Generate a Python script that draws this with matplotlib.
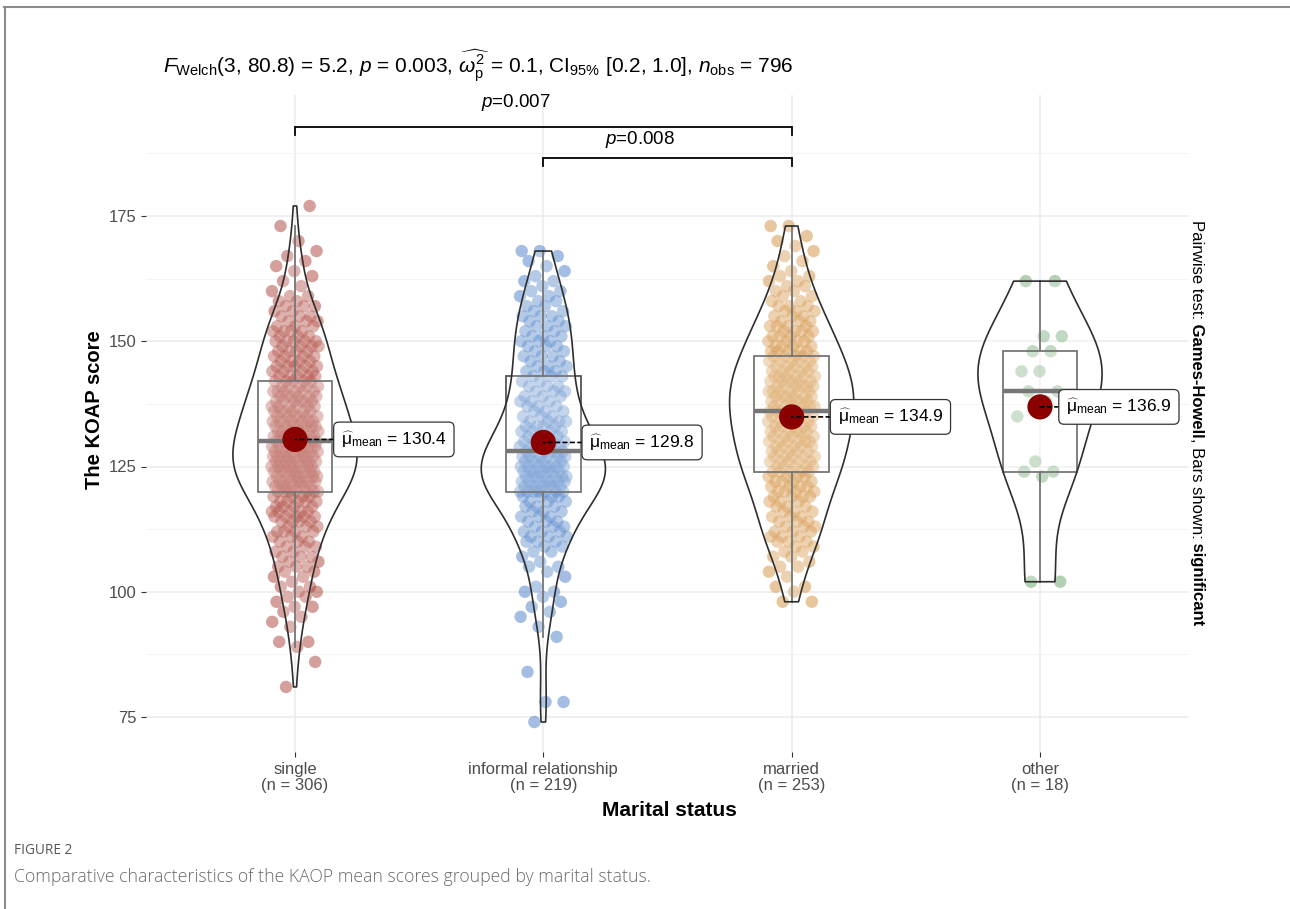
import numpy as np
import matplotlib
matplotlib.use('Agg')
import matplotlib.pyplot as plt
from matplotlib.lines import Line2D

plt.rcParams['font.family'] = ['Liberation Sans', 'DejaVu Sans']
plt.rcParams['mathtext.fontset'] = 'custom'
plt.rcParams['mathtext.rm'] = 'Liberation Sans'
plt.rcParams['mathtext.it'] = 'Liberation Sans:italic'
plt.rcParams['mathtext.bf'] = 'Liberation Sans:bold'

# ---------------- data ----------------
categories = ['single', 'informal relationship', 'married', 'other']
group_n = [306, 219, 253, 18]

# frequency tables: score -> count
single_scores = list(range(81, 178))
single_counts = [1, 0, 0, 0, 0, 1, 0, 0, 1, 2, 0, 0, 1, 1, 1, 1, 2, 1, 2, 2,          # 81-100
                 2, 1, 2, 2, 3, 2, 3, 2, 3, 3,                                      # 101-110
                 3, 4, 3, 4, 5, 5, 4, 5, 4,                                         # 111-119
                 7, 7, 8, 7, 8, 8, 8, 8, 8, 7,                                      # 120-129
                 8, 7, 7, 7, 7, 6, 6, 6, 6, 6, 6, 5,                                # 130-141
                 5, 5, 4, 5, 4, 4, 4, 4, 5,                                         # 142-150
                 3, 4, 3, 3, 3, 2, 3, 2, 2,                                         # 151-159
                 1, 1, 1, 1, 1, 1, 1, 1, 1,                                         # 160-168
                 0, 1, 0, 0, 1, 0, 0, 0, 1]                                         # 169-177

informal_scores = list(range(74, 169))
informal_counts = [1, 0, 0, 0, 2, 0, 0, 0, 0, 0, 1, 0, 0, 0, 0, 0, 0,                  # 74-90
                   1, 0, 1, 0, 1, 1, 1, 1, 1, 2, 1, 0, 1, 1, 2, 1, 1, 2, 2,            # 91-109
                   3, 3, 3, 3, 3, 3, 3, 3, 3, 4,                                      # 110-119
                   7, 7, 7, 7, 7, 7, 6, 6,                                            # 120-127
                   6,                                                                 # 128
                   5, 5, 4, 4, 4, 4, 3, 3, 3, 3, 3, 3, 3, 2,                          # 129-142
                   3, 3, 3, 2, 3, 2, 3, 3, 3, 2, 3, 2, 3, 2,                          # 143-156
                   2, 2, 2, 2, 1, 2, 1, 1, 1, 1, 1, 2]                                # 157-168

married_scores = list(range(98, 174))
married_counts = [2, 0, 1, 2, 0, 1, 1, 2, 1, 2, 2, 2,                                 # 98-109
                  3, 3, 3, 3, 3, 3, 3, 3, 3, 4, 4, 4, 4, 4,                           # 110-123
                  5, 5, 5, 5, 5, 5, 6, 5, 6, 5, 5, 6,                                 # 124-135
                  6,                                                                  # 136
                  6, 6, 6, 6, 6, 6, 6, 5, 5, 5,                                       # 137-146
                  5, 5, 4, 4, 4, 4, 4, 3, 3, 3, 3,                                    # 147-157
                  2, 2, 2, 2, 2, 2, 1, 1, 1, 1, 1, 1, 1, 1, 0, 2]                     # 158-173

other_values = [102, 102, 123, 124, 124, 126, 135, 138, 140,
                140, 144, 144, 148, 148, 151, 151, 162, 162]

# box statistics and means
box_q1 = [120, 120, 124, 124]
box_med = [130, 128, 136, 140]
box_q3 = [142, 143, 147, 148]
whisk_lo = [89, 91, 98, 102]
whisk_hi = [173, 168, 173, 162]
group_means = [130.4, 129.8, 134.9, 136.9]

pair_groups = [(1, 3), (2, 3)]
pair_p = ['0.007', '0.008']

y_ticks = [75, 100, 125, 150, 175]

# ---------------- styling ----------------
point_colors = ['#A8392E', '#3F77C4', '#D38B35', '#5E9E63']
label_dx = [0.185, 0.185, 0.185, 0.105]
bar_levels = [192.8, 186.6]
bar_label_y = [197.6, 190.3]
bar_label_shift = -0.11

groups = [np.repeat(single_scores, single_counts),
          np.repeat(informal_scores, informal_counts),
          np.repeat(married_scores, married_counts),
          np.array(other_values)]

W, H = 1290, 909
fig = plt.figure(figsize=(W / 100, H / 100), dpi=100)
ax = fig.add_axes([146 / W, 1 - 752 / H, (1189 - 146) / W, (752 - 95) / H])
ax.set_xlim(0.4, 4.6)
ax.set_ylim(175 - (752 - 216) / 5.01, 175 + (216 - 95) / 5.01)
for s in ax.spines.values():
    s.set_visible(False)

# grid
ax.set_yticks(y_ticks)
ax.set_yticks([87.5, 112.5, 137.5, 162.5, 187.5], minor=True)
ax.set_xticks([1, 2, 3, 4])
ax.grid(True, which='major', color='#EBEBEB', lw=1.1, zorder=0)
ax.grid(True, which='minor', axis='y', color='#F2F2F2', lw=0.6, zorder=0)
ax.set_axisbelow(True)
ax.tick_params(axis='both', which='major', length=3.6, width=0.8, color='#333333',
               labelcolor='#4D4D4D', labelsize=12)
ax.tick_params(axis='y', which='major', pad=3)
ax.tick_params(axis='x', which='major', pad=3.5)
ax.tick_params(axis='both', which='minor', length=0)
ax.set_xticklabels([f'{c}\n(n = {n})' for c, n in zip(categories, group_n)],
                   linespacing=1.12)


def kde_nrd0(vals, grid):
    vals = np.asarray(vals, float)
    n = len(vals)
    sd = vals.std(ddof=1)
    iqr = np.percentile(vals, 75) - np.percentile(vals, 25)
    bw = 0.9 * min(sd, iqr / 1.34) * n ** (-0.2)
    d = np.exp(-0.5 * ((grid[:, None] - vals[None, :]) / bw) ** 2).sum(axis=1)
    return d / (n * bw * np.sqrt(2 * np.pi))


for i, vals in enumerate(groups):
    pos = i + 1
    # jittered points (deterministic low-discrepancy offsets)
    k = np.arange(len(vals))
    offs = ((k * 0.6180339887 + 0.31) % 1.0 - 0.5) * 0.19
    ax.scatter(pos + offs, vals, s=80, color=point_colors[i], alpha=0.48,
               edgecolors='none', zorder=2)

    # box
    stats = [dict(med=box_med[i], q1=box_q1[i], q3=box_q3[i],
                  whislo=whisk_lo[i], whishi=whisk_hi[i], fliers=[])]
    ax.bxp(stats, positions=[pos], widths=0.3, showfliers=False, showcaps=False,
           patch_artist=True, manage_ticks=False,
           boxprops=dict(facecolor=(1, 1, 1, 0.2), edgecolor='#555555', lw=1.3),
           whiskerprops=dict(color='#555555', lw=1.3),
           medianprops=dict(color='#555555', lw=3.2, solid_capstyle='butt'),
           zorder=3)

    # violin
    grid = np.linspace(vals.min(), vals.max(), 400)
    d = kde_nrd0(vals, grid)
    w = d / d.max() * 0.25
    xs = np.concatenate([pos - w, (pos + w)[::-1]])
    ys = np.concatenate([grid, grid[::-1]])
    ax.fill(xs, ys, facecolor=(1, 1, 1, 0.2), edgecolor='#2E2E2E', lw=1.2,
            zorder=4, joinstyle='round')

    # mean point + label
    m = group_means[i]
    ax.scatter([pos], [m], s=330, color='#8B0000', zorder=6, edgecolors='none')
    ax.annotate(r'$\widehat{\mathrm{\mu}}_{\mathrm{mean}}$ = ' + f'{m:.1f}',
                xy=(pos, m), xytext=(pos + label_dx[i], m),
                ha='left', va='center', fontsize=12.5, color='black', zorder=7,
                bbox=dict(boxstyle='round,pad=0.42,rounding_size=0.3',
                          fc='white', ec='#333333', lw=0.9),
                arrowprops=dict(arrowstyle='-', ls=(0, (2.2, 2.2)), color='black',
                                lw=1.2, shrinkA=0, shrinkB=0))

# significance bars
for (g1, g2), p, lev, ly in zip(pair_groups, pair_p, bar_levels, bar_label_y):
    ax.plot([g1, g1, g2, g2], [lev - 1.6, lev, lev, lev - 1.6], color='black',
            lw=1.3, zorder=5, solid_joinstyle='miter')
    ax.text((g1 + g2) / 2 + bar_label_shift, ly, r'$p$=' + p, ha='center',
            va='center', fontsize=13.5, zorder=5)

# title (statistical summary)
fig.text(163 / W, 1 - 66 / H,
         r'$F_{\mathrm{Welch}}$(3, 80.8) = 5.2, $p$ = 0.003, '
         r'$\widehat{\omega_{\mathrm{p}}^{2}}$ = 0.1, CI$_{95\%}$ [0.2, 1.0], '
         r'$n_{\mathrm{obs}}$ = 796',
         ha='left', va='center', fontsize=15)

# axis labels
fig.text(94 / W, 1 - 410 / H, 'The KOAP score', rotation=90, ha='center',
         va='center', fontsize=14.5, fontweight='bold')
fig.text(669 / W, 1 - 810 / H, 'Marital status', ha='center', va='center',
         fontsize=15, fontweight='bold')

# right-hand caption (rotated, mixed weight)
pieces = [('Pairwise test:', 'normal'), (' Games-Howell', 'bold'),
          (', Bars shown:', 'normal'), (' significant', 'bold')]
prev = fig.text(1197 / W, 1 - 220 / H, pieces[0][0], rotation=-90, ha='center',
                va='top', fontsize=12, fontweight=pieces[0][1])
for txt, wt in pieces[1:]:
    prev = ax.annotate(txt, xy=(0.5, 0.0), xycoords=prev, ha='center', va='top',
                       rotation=-90, fontsize=12, fontweight=wt,
                       annotation_clip=False)

# figure caption
fig.text(14 / W, 1 - 851 / H, 'FIGURE 2', ha='left', va='center', fontsize=9.8,
         color='#555555', family=['Open Sans', 'DejaVu Sans'])
fig.text(14 / W, 1 - 877 / H,
         'Comparative characteristics of the KAOP mean scores grouped by marital status.',
         ha='left', va='center', fontsize=12.7, color='#6A6A6A',
         family=['Open Sans', 'DejaVu Sans'], fontweight='light')

# frame lines
fig.add_artist(Line2D([4 / W, 1], [1 - 6.5 / H, 1 - 6.5 / H], color='#8C8C8C',
                      lw=1.5, transform=fig.transFigure))
fig.add_artist(Line2D([4.5 / W, 4.5 / W], [0, 1 - 6.5 / H], color='#8C8C8C',
                      lw=1.5, transform=fig.transFigure))

fig.savefig('out.png', dpi=100)
